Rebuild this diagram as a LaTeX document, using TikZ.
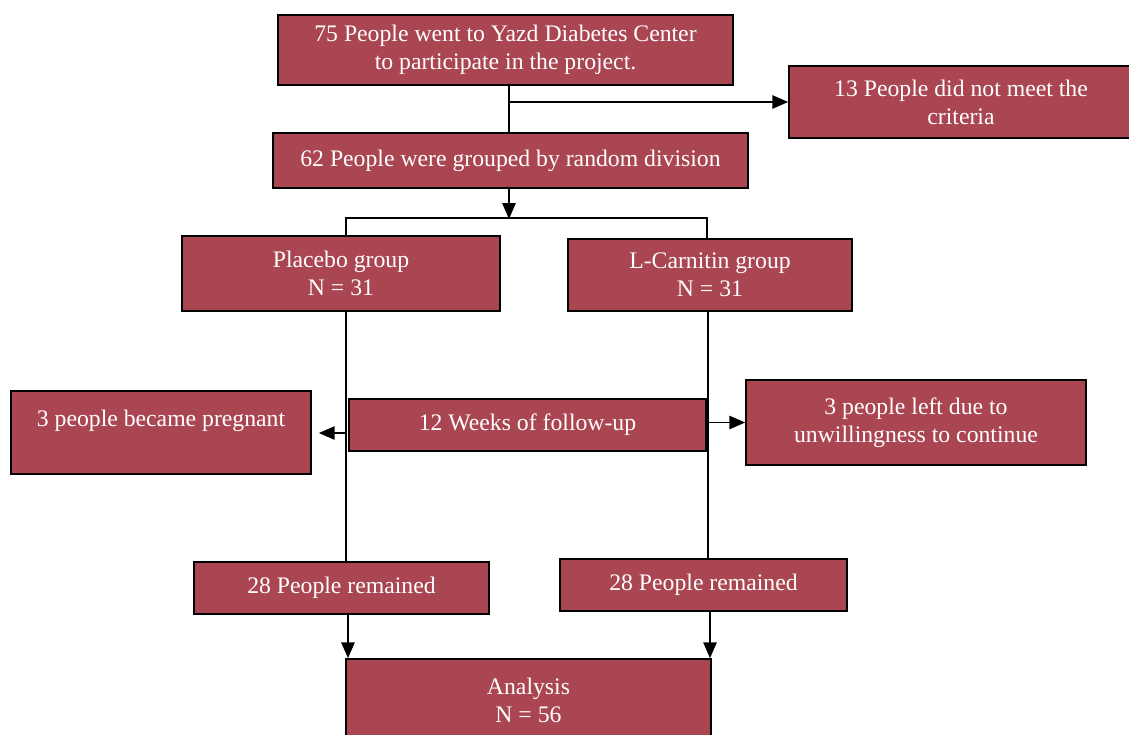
\documentclass[tikz,border=0pt]{standalone}
\usepackage{fontspec}
\setmainfont{Liberation Serif}
\usetikzlibrary{arrows.meta}
\definecolor{boxred}{RGB}{170,69,82}
\begin{document}
\begin{tikzpicture}[x=0.02cm, y=-0.02cm,
    box/.style={rectangle, draw=black, line width=0.9pt, fill=boxred,
      text=white, inner sep=0pt, align=center,
      font=\fontsize{13.5}{16}\selectfont}]
    \useasboundingbox (0,0) rectangle (1129,734);
    \clip (0,0) rectangle (1129,734);
    \begin{scope}[every node/.style={box}]
      \node[minimum width=9.1cm, minimum height=1.4cm] (enter) at (505.5,50)
      {75 People went to Yazd Diabetes Center\\to participate in the project.};
      \node[minimum width=6.88cm, minimum height=1.44cm] (excl) at (961,102)
      {13 People did not meet the\\criteria};
      \node[minimum width=9.5cm, minimum height=1.1cm] (rand) at (510.5,160.5)
      {62 People were grouped by random division};
      \node[minimum width=6.36cm, minimum height=1.5cm] (plac) at (341,273.5)
      {Placebo group\\N = 31};
      \node[minimum width=5.68cm, minimum height=1.44cm] (carn) at (710,275)
      {L-Carnitin group\\N = 31};
      \node[minimum width=6cm, minimum height=1.66cm] (preg) at (161,432.5)
      {3 people became pregnant\\\mbox{}};
      \node[minimum width=7.14cm, minimum height=1.04cm] (follow) at (527.5,425)
      {12 Weeks of follow-up};
      \node[minimum width=6.8cm, minimum height=1.7cm] (quit) at (916,422.5)
      {3 people left due to\\unwillingness to continue};
      \node[minimum width=5.9cm, minimum height=1.04cm] (rem1) at (341.5,588)
      {28 People remained};
      \node[minimum width=5.74cm, minimum height=1.04cm] (rem2) at (703.5,585)
      {28 People remained};
      \node[minimum width=7.3cm, minimum height=1.64cm] (analysis) at (528.5,700)
      {Analysis\\N = 56};
    \end{scope}
    % columns of the connectors
    \coordinate (split) at (509,219); \coordinate (pl) at (346,218);
    \coordinate (lc) at (707,218); \coordinate (lcd) at (708,433);
    \coordinate (a1) at (348,0); \coordinate (a2) at (710,0);
    \begin{scope}[line width=1.1pt, >={Triangle[length=9pt,width=7.5pt]}]
      \draw (enter.south -| split) -- (rand.north -| split);
      \draw[->] (excl.west -| split) -- (excl.west);
      \draw[->] (rand.south -| split) -- (split);
      \draw (plac.north -| pl) -- (pl) -- (lc) -- (carn.north -| lc);
      \draw (plac.south -| pl) -- (rem1.north -| pl);
      \draw (carn.south -| lcd) -- (rem2.north -| lcd);
      \draw[->, shorten >=4pt] (pl |- lcd) -- (preg.east |- lcd);
      \draw[->] (quit.west -| lcd) -- (quit.west);
      \draw[->] (rem1.south -| a1) -- (analysis.north -| a1);
      \draw[->] (rem2.south -| a2) -- (analysis.north -| a2);
    \end{scope}
  \end{tikzpicture}
\end{document}
